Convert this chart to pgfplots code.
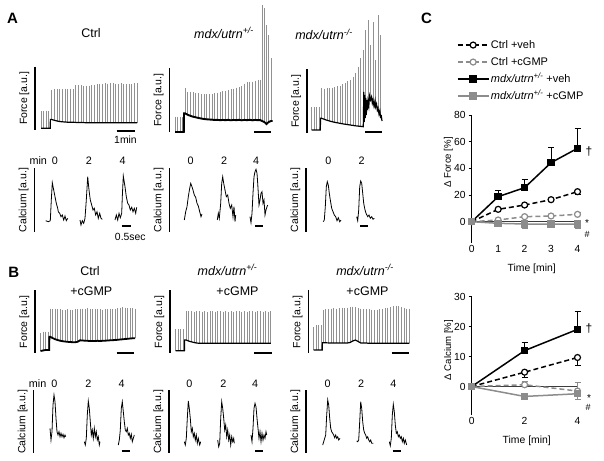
\documentclass[border=0pt]{standalone}
\usepackage{pgfplots}
\usepackage{pgfplotstable}
\pgfplotsset{compat=1.18}
\usepackage{fontspec}
\setmainfont{Liberation Sans}

\definecolor{spk}{RGB}{145,145,145}
\definecolor{mygray}{RGB}{140,140,140}
\definecolor{zline}{RGB}{60,60,60}

\newcommand{\mdx}[1]{\textit{mdx/utrn\textsuperscript{#1}}}

\pgfplotsset{
  trace/.style={x=1pt, y=1pt, y dir=reverse, anchor=north west,
    axis x line=none, axis y line*=left, xtick=\empty, ytick=\empty, clip=false,
    y axis line style={line width=1.6pt},
    ylabel style={at={(axis description cs:0,0.5)}, anchor=south, inner sep=0pt,
      inner ysep=5.5pt, font=\fontsize{10.5}{12}\selectfont}},
  spikes/.style={draw=none, mark=none, forget plot,
    error bars/.cd, y dir=plus, y explicit, error mark=none,
    error bar style={draw=spk, line width=0.7pt}},
  base/.style={black, line width=1.2pt, mark=none},
  ca/.style={black, line width=0.8pt, mark=none},
  sbar/.style={black, line width=2pt, mark=none},
  cplot/.style={scale only axis, width=105.8pt, anchor=south west, xmin=0, xmax=4,
    clip=false, axis y line*=left, axis x line*=bottom,
    x axis line style={draw=none}, xtick style={draw=none},
    tick align=outside, major tick length=3pt, ytick style={black, line width=0.8pt},
    y axis line style={line width=1.1pt},
    tick label style={font=\fontsize{10.3}{12}\selectfont},
    /pgf/number format/assume math mode=true,
    xticklabel style={inner sep=0pt, yshift=1pt},
    yticklabel style={inner sep=0pt, xshift=-3pt},
    xlabel style={anchor=center, font=\fontsize{10.4}{12}\selectfont},
    ylabel style={anchor=center, font=\fontsize{9.6}{12}\selectfont},
    error bars/error bar style={solid, line width=1pt},
    error bars/error mark=-,
    error bars/error mark options={rotate=90, solid, line width=1pt, mark size=3pt}},
  cveh/.style={black, line width=1.5pt, dash pattern=on 5pt off 3pt, mark=*, mark size=3pt,
    mark options={solid, fill=white, draw=black, line width=1.2pt}},
  ccg/.style={mygray, line width=1.5pt, dash pattern=on 5pt off 3pt, mark=*, mark size=3pt,
    mark options={solid, fill=white, draw=mygray, line width=1.2pt}},
  mveh/.style={black, line width=1.5pt, mark=square*, mark size=3pt, mark options={solid}},
  mcg/.style={mygray, line width=1.5pt, mark=square*, mark size=3pt, mark options={solid}},
}

% force traces: spike position, spike top, baseline (page pixels)
\pgfplotstableread[row sep=\\]{x pk bs\\
41.0 111 128.3\\ 43.6 111 128.3\\ 46.2 111 128.3\\ 48.8 111 128.3\\ 50.2 128.3 128.3\\ 50.4 119.5 119.5\\
51.7 90.0 119.5\\ 54.4 89.3 120.3\\ 57.0 89.0 121.0\\ 59.7 89.0 121.5\\ 62.4 89.3 121.8\\ 65.1 88.7 122.0\\
67.7 89.3 122.2\\ 70.4 88.7 122.3\\ 73.1 89.0 122.3\\ 75.7 85.3 122.4\\ 78.4 85.3 122.5\\ 81.1 85.0 122.5\\
83.7 86.0 122.6\\ 86.4 85.7 122.7\\ 89.1 85.7 122.7\\ 91.8 85.3 122.7\\ 94.4 84.7 122.7\\ 97.1 84.0 122.8\\
99.8 84.3 122.7\\ 102.4 84.0 122.8\\ 105.1 83.3 122.7\\ 107.8 83.7 122.8\\ 110.4 83.3 122.7\\ 113.1 83.3 122.8\\
115.8 83.7 122.7\\ 118.5 84.0 122.8\\ 121.1 83.3 122.7\\ 123.8 84.0 122.8\\ 126.5 84.0 122.7\\ 129.1 84.3 122.8\\
131.8 84.0 122.7\\ 134.5 83.3 122.8\\ 137.1 83.3 122.7\\
}\tAa
\pgfplotstableread[row sep=\\]{x pk bs\\
175.0 116.7 132.0\\ 177.5 116.7 132.0\\ 180.0 116.7 132.0\\ 182.5 116.7 132.0\\ 183.8 132.0 132.0\\ 184.0 113.3 113.3\\
185.0 88.3 113.3\\ 187.7 91.7 114.8\\ 190.4 91.7 115.8\\ 193.1 92.3 116.7\\ 195.8 93.0 117.3\\ 198.5 93.3 118.0\\
201.2 94.0 118.5\\ 203.9 94.3 119.0\\ 206.6 94.3 119.3\\ 209.3 94.3 119.5\\ 212.0 94.0 119.7\\ 214.7 93.3 120.0\\
217.4 92.7 119.8\\ 220.1 92.0 120.2\\ 222.8 91.3 119.9\\ 225.5 91.0 120.2\\ 228.2 90.0 119.8\\ 230.9 89.3 120.3\\
233.6 88.7 119.9\\ 236.3 87.7 120.2\\ 239.0 87.0 119.8\\ 241.7 86.0 120.3\\ 244.4 83.7 119.9\\ 247.1 82.0 120.2\\
249.8 81.7 119.8\\ 252.5 81.7 120.3\\ 255.2 80.7 119.9\\ 257.9 80.0 120.2\\ 260.0 79.5 120.0\\
262.0 5.0 121.0\\ 264.3 8.3 122.0\\ 266.5 25.0 124.0\\ 268.7 35.0 122.0\\ 271.0 58.0 121.0\\ 272.5 121.0 121.0\\
}\tAb
\pgfplotstableread[row sep=\\]{x pk bs\\
311.5 107.3 130.0\\ 314.0 107.3 130.0\\ 316.5 107.3 130.0\\ 319.0 107.3 130.0\\ 320.3 130.0 130.0\\ 320.5 118.3 118.3\\
321.7 88.3 118.3\\ 324.3 88.5 119.3\\ 326.9 88.3 120.2\\ 329.5 88.0 121.0\\ 332.1 87.5 121.7\\ 334.7 87.0 122.3\\
337.3 86.3 122.8\\ 339.9 85.5 123.3\\ 342.5 84.3 123.8\\ 345.1 83.0 124.2\\ 347.7 81.3 124.6\\ 350.3 79.5 125.0\\
352.9 76.5 125.4\\ 355.5 72.5 125.8\\ 358.1 66.5 126.1\\ 360.7 58.0 126.4\\ 363.3 50.0 126.7\\
363.8 92 92\\ 364.3 122 122\\ 364.8 95 95\\ 365.3 30 118\\ 365.8 98 98\\ 366.3 115 115\\ 366.8 100 100\\
367.3 110 110\\ 368.0 20 101\\ 368.8 106 106\\ 369.5 96 96\\ 370.5 45 100\\ 371.5 97 97\\ 372.3 103 103\\
373.0 22 100\\ 374.0 106 106\\ 375.0 101 101\\ 375.5 60 107\\ 376.5 104 104\\ 377.3 110 110\\ 378.0 15 108\\
379.0 114 114\\ 379.8 111 111\\ 380.5 35 117\\ 381.3 116 116\\ 382.0 121 121\\
}\tAc
\pgfplotstableread[row sep=\\]{x pk bs\\
40.5 333.3 351.0\\ 43.0 331.7 350.5\\ 45.5 331.7 350.0\\ 48.0 331.7 350.0\\ 49.2 350.0 350.0\\ 49.4 336.7 336.7\\
50.0 308.5 336.7\\ 52.5 309.0 338.0\\ 55.0 308.7 339.2\\ 57.5 309.3 340.0\\ 60.0 309.0 340.7\\ 62.5 309.7 341.2\\
65.0 310.0 341.5\\ 67.5 309.3 341.8\\ 70.0 309.7 342.0\\ 72.5 310.0 342.2\\ 75.0 309.3 342.3\\ 77.5 309.0 341.8\\
80.0 309.3 340.3\\ 82.5 308.7 340.5\\ 85.0 309.3 340.7\\ 87.5 308.3 340.8\\ 90.0 309.0 341.0\\ 92.5 309.3 341.0\\
95.0 309.0 341.0\\ 97.5 308.7 340.8\\ 100.0 309.3 341.0\\ 102.5 309.7 340.8\\ 105.0 309.0 340.7\\ 107.5 309.3 340.5\\
110.0 308.7 340.3\\ 112.5 309.3 340.2\\ 115.0 309.0 340.0\\ 117.5 308.3 339.8\\ 120.0 307.7 339.5\\ 122.5 307.3 339.3\\
125.0 307.7 339.0\\ 127.5 308.0 338.8\\ 130.0 308.3 338.5\\ 132.5 308.0 338.3\\ 135.0 308.7 338.3\\
}\tBa
\pgfplotstableread[row sep=\\]{x pk bs\\
175.5 329.3 350.7\\ 178.0 329.3 350.7\\ 180.5 329.3 350.7\\ 183.0 329.3 350.7\\ 184.4 350.7 350.7\\ 184.6 340.0 340.0\\
186.0 311.0 340.0\\ 188.6 311.3 341.0\\ 191.3 311.0 341.8\\ 194.0 311.7 342.5\\ 196.6 311.3 343.0\\ 199.3 311.0 343.3\\
201.9 311.7 343.3\\ 204.6 311.3 343.3\\ 207.2 312.0 343.3\\ 209.9 311.3 343.3\\ 212.5 311.0 343.3\\ 215.2 311.7 343.3\\
217.8 311.3 343.3\\ 220.5 311.0 343.3\\ 223.1 311.7 343.3\\ 225.8 311.3 343.3\\ 228.4 312.0 343.3\\ 231.1 311.3 343.3\\
233.7 311.7 343.3\\ 236.4 311.0 343.3\\ 239.0 311.3 343.3\\ 241.7 312.0 343.3\\ 244.3 311.3 343.3\\ 247.0 311.7 343.3\\
249.6 311.0 343.3\\ 252.3 311.3 343.3\\ 254.9 311.7 343.3\\ 257.6 311.3 343.3\\ 260.2 311.0 343.3\\ 262.9 311.7 343.3\\
265.5 311.3 343.3\\ 268.2 311.7 343.3\\ 270.8 311.3 343.3\\
}\tBb
\pgfplotstableread[row sep=\\]{x pk bs\\
313.5 327.0 350.0\\ 316.0 325.0 350.0\\ 318.5 325.0 350.0\\ 321.0 325.0 350.0\\ 322.2 350.0 350.0\\ 322.4 342.7 342.7\\
323.0 310.0 342.7\\ 325.7 309.3 342.8\\ 328.4 309.0 342.9\\ 331.1 308.7 343.0\\ 333.8 308.3 343.0\\ 336.5 308.7 343.0\\
339.2 308.0 343.0\\ 341.9 307.7 343.0\\ 344.6 308.0 343.0\\ 347.3 307.7 343.0\\ 350.0 307.3 342.5\\ 352.7 306.7 341.0\\
355.4 307.3 340.0\\ 358.1 307.7 341.5\\ 360.8 308.7 343.0\\ 363.5 309.0 343.0\\ 366.2 309.3 343.0\\ 368.9 309.0 343.3\\
371.6 309.7 343.3\\ 374.3 310.0 343.3\\ 377.0 310.0 343.3\\ 379.7 309.3 343.3\\ 382.4 309.0 343.3\\ 385.1 308.3 343.3\\
387.8 307.7 343.3\\ 390.5 307.0 343.3\\ 393.2 306.3 343.3\\ 395.9 306.0 343.3\\ 398.6 306.3 343.3\\ 401.3 307.3 343.3\\
404.0 308.3 343.3\\ 406.7 308.7 343.3\\ 409.4 308.7 343.3\\
}\tBc

\newcommand{\force}[2][1.2pt]{%
  \addplot[spikes] table[x=x, y=pk, y error expr=\thisrow{bs}-\thisrow{pk}] {#2};
  \addplot[base, line width=#1] table[x=x, y=bs] {#2};}

\begin{document}
\begin{tikzpicture}
\useasboundingbox (0,0) rectangle (604pt,-460pt);

%% ---------------- A: force ----------------
\begin{axis}[trace, at={(35pt,-66.7pt)}, xmin=35, xmax=140, ymin=66.7, ymax=130, ylabel={Force [a.u.]}]
\force{\tAa}
\addplot[sbar] coordinates {(116.7,131)(135,131)};
\end{axis}
\begin{axis}[trace, at={(169.3pt,-68.3pt)}, xmin=169.3, xmax=275, ymin=68.3, ymax=131.7, ylabel={Force [a.u.]}]
\force[1.9pt]{\tAb}
\addplot[sbar] coordinates {(254.3,131.7)(271,131.7)};
\end{axis}
\begin{axis}[trace, at={(306.7pt,-69.3pt)}, xmin=306.7, xmax=385, ymin=69.3, ymax=133.3, ylabel={Force [a.u.]}]
\force[1.2pt]{\tAc}
\addplot[sbar] coordinates {(365,131.7)(382.3,131.7)};
\end{axis}

%% ---------------- A: calcium ----------------
\begin{axis}[trace, at={(34.3pt,-168.3pt)}, xmin=34.3, xmax=140, ymin=168.3, ymax=231.7, ylabel={Calcium [a.u.]}]
\addplot[ca] coordinates {(45.7,220.7)(48.3,221.7)(50.3,220.7)(51.3,200)(52.3,182.7)(53.7,190)(55,196.7)(56.3,203.3)(57.7,208.3)(58.3,211.7)(59.7,213.3)(61,216.7)(62.3,215)(63.7,220)(65,216)(66.3,220.7)(67.7,218.3)};
\addplot[ca] coordinates {(80,220)(81,225)(82.3,220.7)(83.7,223.3)(85,218.3)(86.3,200)(87.7,176.7)(89,190)(90.3,200)(91.7,205)(93,210)(94.3,208.3)(95.7,215)(97,211.7)(98.3,218.3)(99.7,213.3)(101,218.3)(102.3,219.3)};
\addplot[ca] coordinates {(115,220)(116.3,215)(117.7,220)(119,213.3)(120.3,217.7)(121.7,213.3)(122.3,196.7)(123.3,176)(125,186.7)(126.3,196.7)(127.7,203.3)(129,205)(130.3,210)(131.7,207.3)(133,211.7)(134.3,208.3)(135.7,213.3)(136.7,207.3)};
\addplot[sbar] coordinates {(121.7,226)(131,226)};
\end{axis}
\begin{axis}[trace, at={(169.3pt,-168.3pt)}, xmin=169.3, xmax=270, ymin=168.3, ymax=231.7, ylabel={Calcium [a.u.]}]
\addplot[ca] coordinates {(184.3,220)(185.7,211.7)(187,206.7)(188.3,196.7)(189.7,188.3)(190.7,183.3)(191.7,186)(193,190)(194.3,195)(195.7,197.3)(197,203.3)(198.3,206)(199.7,211.7)(201,216.7)(202,214)};
\addplot[ca] coordinates {(217.3,220)(218.3,213.3)(219.3,218.3)(220.7,203.3)(221.7,183.3)(222.7,176.7)(223.7,183.3)(225,190)(226.3,196.7)(227.7,195)(229,203.3)(230.3,208.3)(231.7,205)(233,216.7)(234,206.7)(235,221.7)(235.7,215)};
\addplot[ca] coordinates {(250,216.7)(251,222.7)(252,213.3)(253,193.3)(254,176.7)(255,171.7)(256,169.3)(257,173.3)(257.7,183.3)(258.3,193.3)(259,205)(260,200)(261,193.3)(262,191.7)(263,203.3)(264,200)(265,215)(266,210)(267,206.7)(267.7,205)};
\addplot[sbar] coordinates {(255,226)(263.3,226)};
\end{axis}
\begin{axis}[trace, at={(306pt,-168.3pt)}, xmin=306, xmax=380, ymin=168.3, ymax=231.7, ylabel={Calcium [a.u.]}]
\addplot[ca] coordinates {(323.3,221.7)(324.3,220)(325.3,206.7)(326.3,186.7)(327.3,181.7)(328.3,185)(329.3,193.3)(330.3,200)(331.7,208.3)(333,211.7)(334.3,215)(335.7,216.7)(337,220.7)(338.3,217.7)(339.7,221.7)(341,220)};
\addplot[ca] coordinates {(356.7,216.7)(357.7,220.7)(358.7,210)(359.7,186.7)(360.7,181)(361.7,183.3)(362.7,193.3)(363.7,203.3)(365,210)(366.3,214)(367.7,216.7)(369,215)(370.3,218.3)(371.7,216.7)(373,219.3)(374.3,218.3)};
\addplot[sbar] coordinates {(360,226)(368.3,226)};
\end{axis}

%% ---------------- B: force ----------------
\begin{axis}[trace, at={(35pt,-290pt)}, xmin=35, xmax=140, ymin=290, ymax=353.3, ylabel={Force [a.u.]}]
\force[1.8pt]{\tBa}
\addplot[sbar] coordinates {(116.7,352.7)(134.3,352.7)};
\end{axis}
\begin{axis}[trace, at={(170pt,-290pt)}, xmin=170, xmax=275, ymin=290, ymax=353.3, ylabel={Force [a.u.]}]
\force{\tBb}
\addplot[sbar] coordinates {(254,352.7)(271.7,352.7)};
\end{axis}
\begin{axis}[trace, at={(308.3pt,-290pt)}, xmin=308.3, xmax=412, ymin=290, ymax=353.3, ylabel={Force [a.u.]}]
\force{\tBc}
\addplot[sbar] coordinates {(391.7,352.7)(409.3,352.7)};
\end{axis}

%% ---------------- B: calcium ----------------
\begin{axis}[trace, at={(33.3pt,-390pt)}, xmin=33.3, xmax=140, ymin=390, ymax=453.3, ylabel={Calcium [a.u.]}]
\addplot[ca] coordinates {(50,428.3)(51,440)(52,431.7)(53,405)(54,395)(55,401.7)(56,418.3)(57,431.7)(58,435)(59,431.7)(60,436.7)(61,433.3)(62,436.7)(63,434.3)(64,437.7)(65,435)(65.7,436.7)};
\addplot[ca] coordinates {(84.3,441.7)(85.3,445)(86.3,438.3)(87.3,415)(88.3,401)(89.3,408.3)(90.3,421.7)(91.3,435)(92.3,430)(93.3,438.3)(94.3,428.3)(95.3,436.7)(96.3,431.7)(97.3,440)(98.3,436.7)(99.3,445)(100,441.7)};
\addplot[ca] coordinates {(118.3,445)(119.3,440)(120.3,430)(121.3,408.3)(122.3,401.7)(123.3,411.7)(124.3,421.7)(125.3,430)(126.3,431.7)(127.3,428.3)(128.3,435)(129.3,433.3)(130.3,438.3)(131.3,434.3)(132.3,441.7)(133.3,438.3)(134.3,435)};
\addplot[sbar] coordinates {(121.7,451)(130,451)};
\end{axis}
\begin{axis}[trace, at={(169pt,-390pt)}, xmin=169, xmax=270, ymin=390, ymax=453.3, ylabel={Calcium [a.u.]}]
\addplot[ca] coordinates {(184.3,441.7)(185.3,445)(186.3,438.3)(187.3,418.3)(188.3,401)(189.3,408.3)(190.3,418.3)(191.3,431.7)(192.3,428.3)(193.3,436.7)(194.3,433.3)(195.3,440)(196.3,435)(197.3,443.3)(198.3,438.3)(199.7,445)(200.7,441.7)};
\addplot[ca] coordinates {(217.7,440)(218.7,446.7)(219.7,443.3)(220.7,418.3)(221.7,401.7)(222.7,408.3)(223.7,418.3)(224.7,430)(225.7,425)(226.7,436.7)(227.7,430)(228.7,440)(229.7,435)(230.7,445)(231.7,436.7)(232.7,441.7)(233.7,438.3)(234.3,443.3)};
\addplot[ca] coordinates {(251,435)(252,441.7)(253,428.3)(254,408.3)(255,403.3)(256,406.7)(257,418.3)(258,428.3)(259,438.3)(260,431.7)(261,441.7)(262,433.3)(263,440)(264,435)(265,438.3)(266,431.7)(266.7,435)};
\addplot[sbar] coordinates {(255,451)(263.3,451)};
\end{axis}
\begin{axis}[trace, at={(306pt,-390pt)}, xmin=306, xmax=412, ymin=390, ymax=453.3, ylabel={Calcium [a.u.]}]
\addplot[ca] coordinates {(322.7,445)(323.7,441.7)(324.7,438.3)(325.7,435)(326.7,415)(327.7,400)(328.7,405)(329.7,418.3)(330.7,428.3)(331.7,431.7)(332.7,433.3)(333.7,435)(334.7,437.7)(335.7,435)(336.7,438.3)(337.7,436.7)(338.7,440)(340,438.3)};
\addplot[ca] coordinates {(356.7,441)(357.7,441.7)(358.7,440)(359.7,421.7)(360.7,401.7)(361.7,408.3)(362.7,421.7)(363.7,430)(364.7,433.3)(365.7,435)(366.7,438.3)(367.7,436.7)(368.7,440)(369.7,441.7)(370.7,440)(371.7,443.3)(373.3,443.3)};
\addplot[ca] coordinates {(389.3,441.7)(390.3,445.7)(391.3,438.3)(392.3,415)(393.3,404.3)(394.3,411.7)(395.3,425)(396.3,433.3)(397.3,431.7)(398.3,436.7)(399.3,435)(400.3,438.3)(401.3,436.7)(402.3,441.7)(403.3,438.3)(404.3,443.3)(405.3,440)(406.7,445)};
\addplot[sbar] coordinates {(392.7,451)(401,451)};
\end{axis}

%% ---------------- C: force summary ----------------
\begin{axis}[cplot, at={(471.7pt,-243pt)}, height=128pt, ymin=-16, ymax=80,
  ytick={0,20,40,60,80}, xtick={0,1,2,3,4},
  ylabel={Δ Force [\%]}, ylabel style={at={(axis description cs:-0.22,0.63)}},
  xlabel={Time [min]}, xlabel style={at={(axis description cs:0.567,-0.198)}},
  legend style={at={(axis description cs:-0.142,1.593)}, anchor=north west, draw=none, fill=none,
    inner sep=0pt, row sep=5.5pt, font=\fontsize{11}{13}\selectfont,
    nodes={inner sep=0pt, inner xsep=1.5pt, text height=9pt, text depth=2.5pt}},
  legend cell align=left,
  legend image code/.code={\draw[mark repeat=2, mark phase=2, #1] plot coordinates {(0pt,0pt) (15.5pt,0pt) (31pt,0pt)};}]
\addplot[zline, line width=0.8pt, mark=none, forget plot] coordinates {(0,0)(4,0)};
\addplot[cveh, error bars/.cd, y dir=minus, y explicit] coordinates {(0,0) (1,9.25) -= (0,1) (2,12.5) -= (0,1) (3,16.5) -= (0,1.2) (4,22.5) -= (0,2)};
\addlegendentry{Ctrl +veh}
\addplot[ccg, error bars/.cd, y dir=plus, y explicit] coordinates {(0,0) (1,1.25) += (0,0.8) (2,3.75) += (0,1) (3,4.25) += (0,1) (4,5.5) += (0,1.2)};
\addlegendentry{Ctrl +cGMP}
\addplot[mveh, error bars/.cd, y dir=plus, y explicit] coordinates {(0,0) (1,18.75) += (0,5) (2,25.5) += (0,6) (3,44.25) += (0,11.25) (4,55) += (0,15)};
\addlegendentry{\mdx{+/-} +veh}
\addplot[mcg, error bars/.cd, y dir=minus, y explicit] coordinates {(0,0) (1,-1.25) -= (0,1.5) (2,-1.75) -= (0,3.2) (3,-1.75) -= (0,2) (4,-1.75) -= (0,3.7)};
\addlegendentry{\mdx{+/-} +cGMP}
\end{axis}

%% ---------------- C: calcium summary ----------------
\begin{axis}[cplot, at={(471.7pt,-415pt)}, height=118.3pt, ymin=-9.5, ymax=30,
  ytick={0,10,20,30}, xtick={0,2,4},
  ylabel={Δ Calcium [\%]}, ylabel style={at={(axis description cs:-0.217,0.55)}},
  xlabel={Time [min]}, xlabel style={at={(axis description cs:0.52,-0.22)}}]
\addplot[zline, line width=0.8pt, mark=none] coordinates {(0,0)(4,0)};
\addplot[cveh, error bars/.cd, y dir=minus, y explicit] coordinates {(0,0) (2,4.8) -= (0,1.7) (4,9.7) -= (0,2.8)};
\addplot[ccg, error bars/.cd, y dir=plus, y explicit] coordinates {(0,0) (2,0.6) += (0,1.2) (4,-1.5) += (0,2.8)};
\addplot[mveh, error bars/.cd, y dir=plus, y explicit] coordinates {(0,0) (2,12) += (0,2.7) (4,19.1) += (0,6.1)};
\addplot[mcg, error bars/.cd, y dir=minus, y explicit] coordinates {(0,0) (2,-3.3) -= (0,1) (4,-2.4) -= (0,2)};
\end{axis}

%% ---------------- texts ----------------
\tikzset{ttl/.style={font=\fontsize{12.5}{14}\selectfont, anchor=base, inner sep=0pt},
  sm/.style={font=\fontsize{10.8}{13}\selectfont, anchor=base, inner sep=0pt},
  let/.style={font=\fontsize{15}{18}\selectfont\bfseries, anchor=base, inner sep=0pt}}
\node[let] at (12.5pt,-24pt) {A};
\node[let] at (13.7pt,-277pt) {B};
\node[let] at (426.5pt,-24pt) {C};
\node[ttl] at (91pt,-37.3pt) {Ctrl};
\node[ttl] at (224pt,-38.3pt) {\mdx{+/-}};
\node[ttl] at (324pt,-39.5pt) {\mdx{-/-}};
\node[ttl] at (90pt,-275pt) {Ctrl};
\node[ttl] at (91.3pt,-295pt) {+cGMP};
\node[ttl] at (227.5pt,-275pt) {\mdx{+/-}};
\node[ttl] at (237.5pt,-295pt) {+cGMP};
\node[ttl] at (365pt,-275pt) {\mdx{-/-}};
\node[ttl] at (367.5pt,-295pt) {+cGMP};
\foreach \x/\t in {38.3/min, 55/0, 89/2, 122.7/4, 190.7/0, 224/2, 256/4, 328.3/0, 361.7/2}
  \node[sm] at (\x pt,-164pt) {\t};
\foreach \x/\t in {37.7/min, 54.3/0, 88.3/2, 121.7/4, 189.3/0, 223.3/2, 255/4, 327.7/0, 361/2, 393.3/4}
  \node[sm] at (\x pt,-387.7pt) {\t};
\node[sm, font=\fontsize{10.4}{12}\selectfont] at (125.5pt,-143.3pt) {1min};
\node[sm, font=\fontsize{10.4}{12}\selectfont] at (130.3pt,-240pt) {0.5sec};
\node[font=\fontsize{12}{14}\selectfont] at (589pt,-152pt) {†};
\node[font=\fontsize{12}{14}\selectfont] at (589pt,-329pt) {†};
\node[font=\fontsize{10}{12}\selectfont] at (587pt,-223pt) {*};
\node[font=\fontsize{9}{11}\selectfont] at (587pt,-234pt) {\#};
\node[font=\fontsize{10}{12}\selectfont] at (589pt,-398pt) {*};
\node[font=\fontsize{9}{11}\selectfont] at (588pt,-407pt) {\#};
\end{tikzpicture}
\end{document}
